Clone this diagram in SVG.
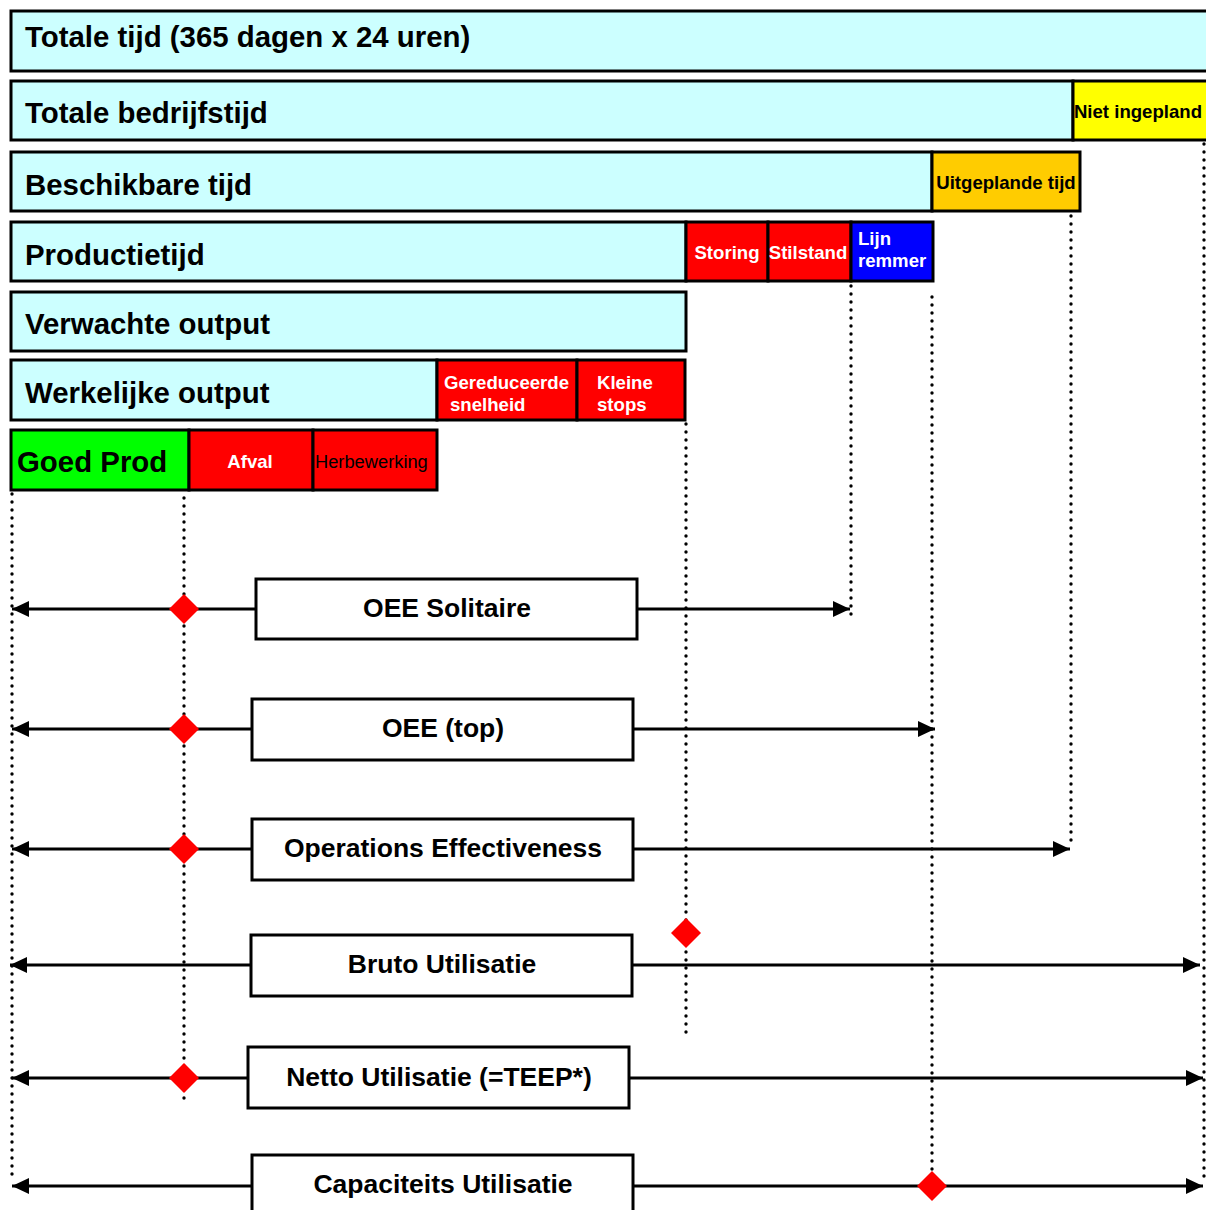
<svg xmlns="http://www.w3.org/2000/svg" width="1206" height="1210" viewBox="0 0 1206 1210">
<style>
.b{stroke:#000;stroke-width:3}
.cy{fill:#CCFFFF}
.rd{fill:#FF0000}
.big{font-family:"Liberation Sans",Arial,sans-serif;font-weight:bold;font-size:29.4px;fill:#000}
.sm{font-family:"Liberation Sans",Arial,sans-serif;font-weight:bold;font-size:18.6px}
.lbl{font-family:"Liberation Sans",Arial,sans-serif;font-weight:bold;font-size:26.5px;fill:#000;text-anchor:middle}
.w{fill:#fff}
.dot{fill:none;stroke:#000;stroke-width:3.4;stroke-linecap:round;stroke-dasharray:0 8}
.ln{fill:none;stroke:#000;stroke-width:3}
.ar{marker-end:url(#ah)}
.dm{fill:#FF0000}
</style>
<defs>
<marker id="ah" markerUnits="userSpaceOnUse" markerWidth="18" markerHeight="17" refX="17" refY="8" orient="auto">
<path d="M0,0 L17,8 L0,16 z" fill="#000"/>
</marker>
</defs>
<rect width="1206" height="1210" fill="#fff"/>

<g id="connectors">
<line class="dot" x1="12" y1="494" x2="12" y2="1180"/>
<line class="dot" x1="184" y1="498" x2="184" y2="1100"/>
<line class="dot" x1="686" y1="424" x2="686" y2="1035"/>
<line class="dot" x1="851" y1="286" x2="851" y2="622"/>
<line class="dot" x1="932" y1="297" x2="932" y2="1174"/>
<line class="dot" x1="1071" y1="216" x2="1071" y2="848"/>
<line class="dot" x1="1204" y1="144" x2="1204" y2="1178"/>

<line class="ln ar" x1="256" y1="609" x2="12" y2="609"/>
<line class="ln ar" x1="637" y1="609" x2="850" y2="609"/>
<line class="ln ar" x1="252" y1="729" x2="12" y2="729"/>
<line class="ln ar" x1="633" y1="729" x2="935" y2="729"/>
<line class="ln ar" x1="252" y1="849" x2="12" y2="849"/>
<line class="ln ar" x1="633" y1="849" x2="1070" y2="849"/>
<line class="ln ar" x1="251" y1="965" x2="10" y2="965"/>
<line class="ln ar" x1="632" y1="965" x2="1200" y2="965"/>
<line class="ln ar" x1="248" y1="1078" x2="12" y2="1078"/>
<line class="ln ar" x1="629" y1="1078" x2="1203" y2="1078"/>
<line class="ln ar" x1="252" y1="1186" x2="12" y2="1186"/>
<line class="ln ar" x1="633" y1="1186" x2="1203" y2="1186"/>

<path class="dm" d="M184,594 L199,609 L184,624 L169,609 z"/>
<path class="dm" d="M184,714 L199,729 L184,744 L169,729 z"/>
<path class="dm" d="M184,834 L199,849 L184,864 L169,849 z"/>
<path class="dm" d="M686,918 L701,933 L686,948 L671,933 z"/>
<path class="dm" d="M184,1063 L199,1078 L184,1093 L169,1078 z"/>
<path class="dm" d="M932,1171 L947,1186 L932,1201 L917,1186 z"/>
</g>

<g id="totale-tijd">
<rect class="b cy" x="11" y="11" width="1198" height="60"/>
<text class="big" x="25" y="47">Totale tijd (365 dagen x 24 uren)</text>
</g>

<g id="totale-bedrijfstijd">
<rect class="b cy" x="11" y="81" width="1062" height="59"/>
<text class="big" x="25" y="123">Totale bedrijfstijd</text>
</g>
<g id="niet-ingepland">
<rect class="b" fill="#FFFF00" x="1073" y="81" width="136" height="59"/>
<text class="sm" x="1138" y="118" text-anchor="middle">Niet ingepland</text>
</g>

<g id="beschikbare-tijd">
<rect class="b cy" x="11" y="152" width="921" height="59"/>
<text class="big" x="25" y="195">Beschikbare tijd</text>
</g>
<g id="uitgeplande-tijd">
<rect class="b" fill="#FFCC00" x="932" y="152" width="148" height="59"/>
<text class="sm" x="1006" y="189" text-anchor="middle">Uitgeplande tijd</text>
</g>

<g id="productietijd">
<rect class="b cy" x="11" y="222" width="675" height="59"/>
<text class="big" x="25" y="265">Productietijd</text>
</g>
<g id="storing">
<rect class="b rd" x="686" y="222" width="82" height="59"/>
<text class="sm w" x="727" y="259" text-anchor="middle">Storing</text>
</g>
<g id="stilstand">
<rect class="b rd" x="768" y="222" width="83" height="59"/>
<text class="sm w" x="808" y="259" text-anchor="middle">Stilstand</text>
</g>
<g id="lijn-remmer">
<rect class="b" fill="#0000FF" x="851" y="222" width="82" height="59"/>
<text class="sm w" x="858" y="245">Lijn</text>
<text class="sm w" x="858" y="267">remmer</text>
</g>

<g id="verwachte-output">
<rect class="b cy" x="11" y="292" width="675" height="59"/>
<text class="big" x="25" y="334">Verwachte output</text>
</g>

<g id="werkelijke-output">
<rect class="b cy" x="11" y="360" width="426" height="60"/>
<text class="big" x="25" y="403">Werkelijke output</text>
</g>
<g id="gereduceerde-snelheid">
<rect class="b rd" x="437" y="360" width="140" height="60"/>
<text class="sm w" x="444" y="389">Gereduceerde</text>
<text class="sm w" x="450" y="411">snelheid</text>
</g>
<g id="kleine-stops">
<rect class="b rd" x="577" y="360" width="108" height="60"/>
<text class="sm w" x="597" y="389">Kleine</text>
<text class="sm w" x="597" y="411">stops</text>
</g>

<g id="goed-prod">
<rect class="b" fill="#00FF00" x="11" y="430" width="178" height="60"/>
<text class="big" x="17" y="472">Goed Prod</text>
</g>
<g id="afval">
<rect class="b rd" x="189" y="430" width="124" height="60"/>
<text class="sm w" x="250" y="468" text-anchor="middle">Afval</text>
</g>
<g id="herbewerking">
<rect class="b rd" x="313" y="430" width="124" height="60"/>
<text x="315" y="468" font-family="Liberation Sans,Arial,sans-serif" font-size="18.3px" fill="#000">Herbewerking</text>
</g>

<g id="oee-solitaire">
<rect class="b" fill="#fff" x="256" y="579" width="381" height="60"/>
<text class="lbl" x="447" y="617">OEE Solitaire</text>
</g>
<g id="oee-top">
<rect class="b" fill="#fff" x="252" y="699" width="381" height="61"/>
<text class="lbl" x="443" y="737">OEE (top)</text>
</g>
<g id="operations-effectiveness">
<rect class="b" fill="#fff" x="252" y="819" width="381" height="61"/>
<text class="lbl" x="443" y="857">Operations Effectiveness</text>
</g>
<g id="bruto-utilisatie">
<rect class="b" fill="#fff" x="251" y="935" width="381" height="61"/>
<text class="lbl" x="442" y="973">Bruto Utilisatie</text>
</g>
<g id="netto-utilisatie">
<rect class="b" fill="#fff" x="248" y="1047" width="381" height="61"/>
<text class="lbl" x="439" y="1086">Netto Utilisatie (=TEEP*)</text>
</g>
<g id="capaciteits-utilisatie">
<rect class="b" fill="#fff" x="252" y="1155" width="381" height="62"/>
<text class="lbl" x="443" y="1193">Capaciteits Utilisatie</text>
</g>
</svg>
